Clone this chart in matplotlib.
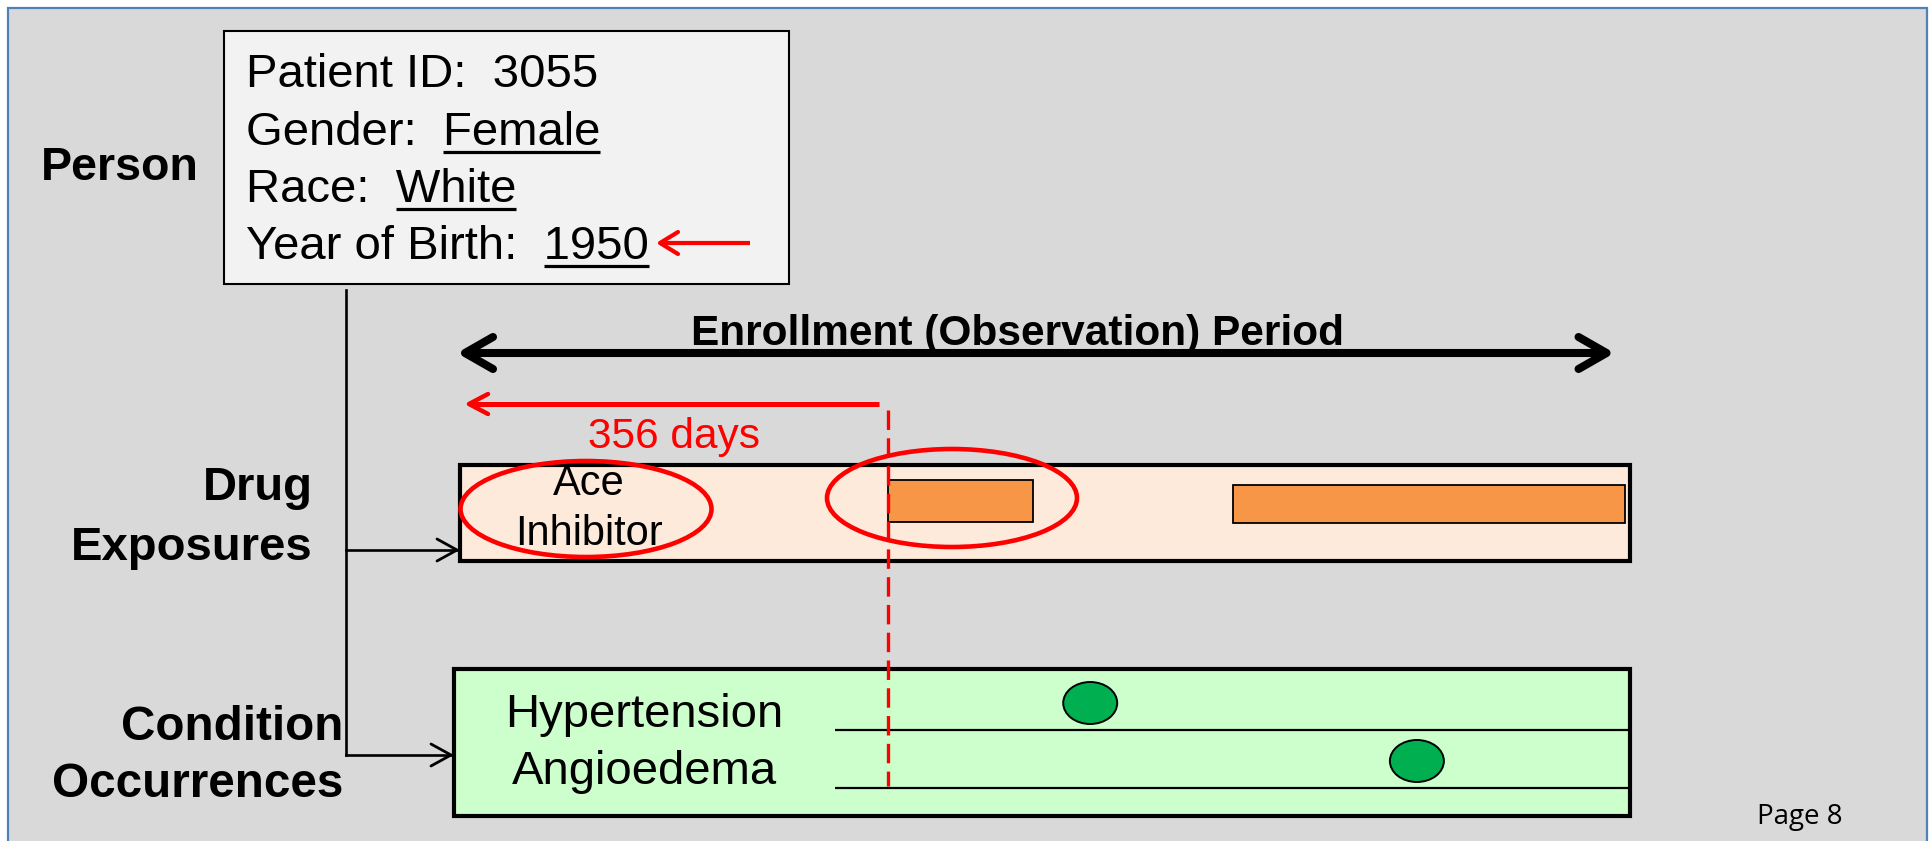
import numpy as np
import matplotlib
matplotlib.use("Agg")
import matplotlib.pyplot as plt
from matplotlib.patches import Rectangle, Ellipse

plt.rcParams['font.family'] = ['Liberation Sans', 'DejaVu Sans']
plt.rcParams['lines.scale_dashes'] = False

# ---------------- data ----------------
person_fields = ["Patient ID:", "Gender:", "Race:", "Year of Birth:"]
person_values = ["3055", "Female", "White", "1950"]
person_underlined = [False, True, True, True]

enrollment_days = (0, 959)           # observation period (days from start)
index_day = 356                      # first ACE inhibitor exposure
lookback_label = "356 days"

drug_name = "Ace\nInhibitor"
drug_start = [356, 644]              # exposure start day
drug_end = [477, 972]                # exposure end day

condition_names = ["Hypertension", "Angioedema"]
condition_days = [525, 798]          # occurrence day

row_labels = ["Person", "Drug\nExposures", "Condition\nOccurrences"]

# ---------------- figure ----------------
W, H = 1933, 841
fig = plt.figure(figsize=(W / 100, H / 100), dpi=100)
fig.patch.set_facecolor('white')
ax = fig.add_axes([0, 0, 1, 1])
ax.set_xlim(0, W)
ax.set_ylim(H, 0)
ax.axis('off')

# timeline axes: x in days, y in same pixel rows
PX0, PXD = 462.0, 1.1966
tax = fig.add_axes([0, 0, 1, 1])
tax.set_xlim(-PX0 / PXD, (W - PX0) / PXD)
tax.set_ylim(H, 0)
tax.axis('off')
tax.patch.set_alpha(0)

BLACK = '#000000'
RED = '#FF0000'

# background frame
ax.add_patch(Rectangle((8, 8), 1919, 850, facecolor='#D9D9D9',
                       edgecolor='#4F81BD', lw=1.6, zorder=0))

# info box
ax.add_patch(Rectangle((224, 31), 565, 253, facecolor='#F2F2F2',
                       edgecolor=BLACK, lw=1.5, zorder=1))

baselines = [87, 145, 202, 259]
fig.canvas.draw()
renderer = fig.canvas.get_renderer()
inv = ax.transData.inverted()
FS_INFO = 34
for f, v, u, yb in zip(person_fields, person_values, person_underlined, baselines):
    t = ax.text(246, yb, f + "  " + v, fontsize=FS_INFO, va='baseline', ha='left', zorder=3)
    if u:
        tv = ax.text(0, 0, v, fontsize=FS_INFO, va='baseline', ha='left')
        wv = tv.get_window_extent(renderer).width
        tv.remove()
        bb = t.get_window_extent(renderer)
        x1 = inv.transform((bb.x1, bb.y0))[0]
        x0 = inv.transform((bb.x1 - wv, bb.y0))[0]
        ax.plot([x0, x1], [yb + 7, yb + 7], color=BLACK, lw=2.3,
                solid_capstyle='butt', zorder=3)


def chevron(axis, tip, direction, back, half, color, lw, z=4, sx=1.0):
    """open arrow head; back/half in pixels; sx converts px -> x data"""
    tx, ty = tip
    d = np.sign(direction)
    axis.plot([tx - d * back * sx, tx, tx - d * back * sx],
              [ty - half, ty, ty + half], color=color, lw=lw,
              solid_capstyle='round', solid_joinstyle='round', zorder=z)


# red arrow to year of birth
ax.plot([660, 750], [243, 243], color=RED, lw=3.0, solid_capstyle='butt', zorder=4)
chevron(ax, (660, 243), -1, 18, 11, RED, 3.0)

# row labels
ax.text(41, 180, row_labels[0], fontsize=33.5, fontweight='bold',
        ha='left', va='baseline')
for line, yb in zip(row_labels[1].split("\n"), [500, 560]):
    ax.text(313, yb, line, fontsize=34, fontweight='bold', ha='right', va='baseline')
for line, yb in zip(row_labels[2].split("\n"), [740, 797]):
    ax.text(343, yb, line, fontsize=34.3, fontweight='bold', ha='right', va='baseline')

# connectors
ax.plot([346, 346], [290, 755], color=BLACK, lw=1.9, zorder=2)
ax.plot([346, 457], [550, 550], color=BLACK, lw=1.9, zorder=2)
chevron(ax, (457, 550), 1, 20, 11, BLACK, 2.0, z=2)
ax.plot([346, 451], [755, 755], color=BLACK, lw=1.9, zorder=2)
chevron(ax, (451, 755), 1, 20, 11, BLACK, 2.0, z=2)

sx = 1.0 / PXD  # pixels -> days

# enrollment period arrow
e0, e1 = enrollment_days
tax.plot([e0 + 3 * sx, e1 - 3 * sx], [353, 353], color=BLACK, lw=5.8,
         solid_capstyle='butt', zorder=4)
chevron(tax, (e0 + 3 * sx, 353), -1, 28, 16, BLACK, 5.8, sx=sx)
chevron(tax, (e1 - 3 * sx, 353), 1, 28, 16, BLACK, 5.8, sx=sx)
ax.text(1018, 345, "Enrollment (Observation) Period", fontsize=30.5,
        fontweight='bold', ha='center', va='baseline', zorder=5)

# look-back arrow
tip = e0 + 7 * sx
tax.plot([tip, index_day - 9 * sx], [404, 404], color=RED, lw=3.6,
         solid_capstyle='butt', zorder=4)
chevron(tax, (tip, 404), -1, 19, 10, RED, 3.2, sx=sx)
ax.text(588, 448, lookback_label, fontsize=30.5, color=RED,
        ha='left', va='baseline', zorder=5)

# drug exposure box
ax.add_patch(Rectangle((460, 465), 1170, 96, facecolor='#FDEADA',
                       edgecolor=BLACK, lw=3.0, zorder=2))
drug_y = [501, 504]
drug_h = [42, 38]
tax.barh(drug_y, np.array(drug_end) - np.array(drug_start), left=drug_start,
         height=drug_h, color='#F79646', edgecolor=BLACK, lw=1.3, zorder=3)
for line, yb in zip(drug_name.split("\n"), [495, 545]):
    ax.text(589, yb, line, fontsize=30, ha='center', va='baseline', zorder=4)
ax.add_patch(Ellipse((586, 509), 251, 96, facecolor='none', edgecolor=RED,
                     lw=3.3, zorder=5))
ax.add_patch(Ellipse((952, 498), 250, 98, facecolor='none', edgecolor=RED,
                     lw=3.3, zorder=5))

# condition box
ax.add_patch(Rectangle((454, 669), 1176, 147, facecolor='#CCFFCC',
                       edgecolor=BLACK, lw=3.0, zorder=2))
row_y = [730, 788]
ax.hlines(row_y, 835, 1630, color=BLACK, lw=1.6, zorder=3)
for name, yb in zip(condition_names, [727, 784]):
    ax.text(644, yb, name, fontsize=34, ha='center', va='baseline', zorder=4)
for d, yl in zip(condition_days, row_y):
    tax.add_patch(Ellipse((d, yl - 27), 54 * sx, 42, facecolor='#00B050',
                          edgecolor=BLACK, lw=1.4, zorder=4))

# index date dashed line
tax.plot([index_day, index_day], [410, 786], color=RED, lw=2.4,
         dashes=(14, 6), zorder=6)

# page number
ax.text(1757, 824, "Page 8", fontsize=20, family=['Open Sans', 'DejaVu Sans'],
        ha='left', va='baseline')

fig.savefig("out.png", dpi=100)
